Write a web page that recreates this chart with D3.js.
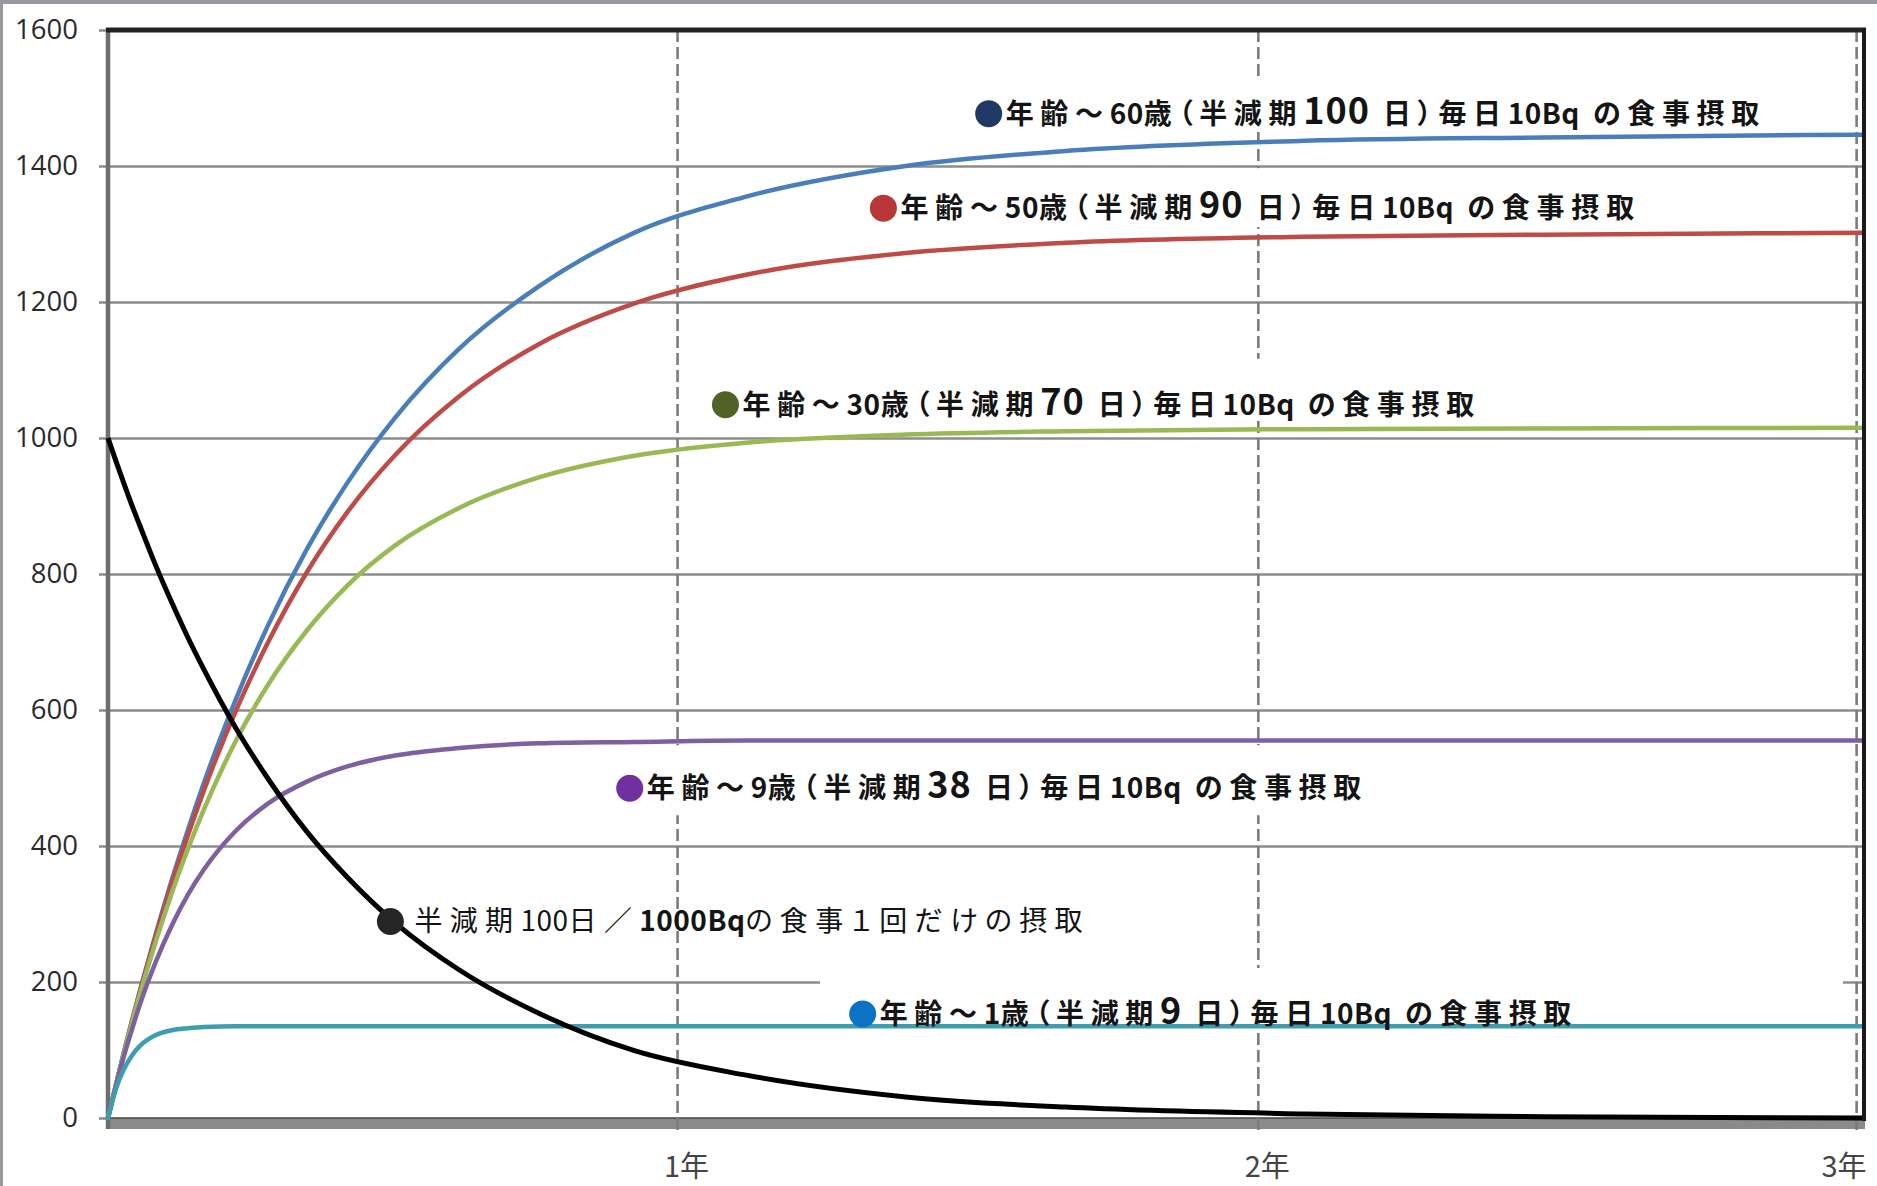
<!DOCTYPE html>
<html><head><meta charset="utf-8">
<script src="https://cdn.jsdelivr.net/npm/d3@7"></script>
<style>
html,body{margin:0;padding:0;background:#fff;}
svg{display:block;}
.lab text{font-feature-settings:"palt" 1;}
</style></head>
<body>
<svg id="chart" width="1877" height="1186"></svg>
<script>
// ---------- data ----------
const days = [0, 5, 10, 15, 20, 30, 40, 50, 60, 80, 100, 125, 150, 180, 220, 270, 330, 400, 500, 600, 750, 900, 1100];
const age60 = [0, 49, 97, 143, 187, 271, 350, 423, 492, 615, 723, 838, 934, 1030, 1131, 1223, 1302, 1355, 1400, 1422, 1437, 1442, 1446];
const age50 = [0, 49, 96, 142, 186, 268, 345, 415, 481, 598, 698, 804, 891, 975, 1061, 1138, 1198, 1240, 1272, 1287, 1296, 1299, 1302];
const age30 = [0, 49, 95, 140, 182, 260, 331, 395, 453, 554, 636, 718, 783, 842, 897, 942, 974, 993, 1005, 1010, 1013, 1014, 1015];
const age9  = [0, 47, 91, 130, 167, 230, 283, 328, 365, 422, 462, 495, 517, 533, 544, 551, 553, 555, 555, 555, 555, 555, 555];
const age1  = [0, 43, 72, 92, 106, 122, 129, 132, 134, 135, 135, 135, 135, 135, 135, 135, 135, 135, 135, 135, 135, 135, 135];
const single = [1000, 966, 933, 901, 871, 812, 758, 707, 660, 574, 500, 420, 354, 287, 218, 154, 99, 63, 31, 16, 6, 2, 0];

const ages = [60, 50, 30, 9, 1];
const halfLives = [100, 90, 70, 38, 9];
const yTicks = [0, 200, 400, 600, 800, 1000, 1200, 1400, 1600];
const yearLabels = ["1年", "2年", "3年"];
const yearDays = [357, 721, 1096];
// label anchor points (day, value) where each legend dot sits
const labelAnchors = [[552, 1477], [486, 1338], [387, 1049], [327, 485], [473, 153]];
const singleAnchor = [177, 289];

// ---------- style / layout ----------
const lineColors = ["#4a7ebb", "#be4b48", "#98b954", "#7d60a0", "#3f9db0"];
const dotColors = ["#1f3864", "#b8383a", "#4f6228", "#7030a0", "#0b72c4"];
const textEnds = [1766, 1641, 1481, 1368, 1578];
const boxExt = [[-34, 13], [-40, 19], [-46, 13], [-43, 27], [-46, 6]];
const boxLeft = [968, 866, 708, 612, 820];
const boxRight = [1775, 1650, 1490, 1375, 1843];

const W = 1877, H = 1186;
const L = 108, R = 1863, T = 30, B = 1118;
const svg = d3.select("#chart");
const x = d3.scaleLinear().domain([0, 1100]).range([L, R]);
const y = d3.scaleLinear().domain([0, 1600]).range([B, T]);

// outer frame of the screenshot
svg.append("rect").attr("x", 0).attr("y", 0).attr("width", W).attr("height", 4).attr("fill", "#9a97a2");
svg.append("rect").attr("x", 0).attr("y", 0).attr("width", 3).attr("height", H).attr("fill", "#9a9a9a");

// gridlines
const grid = svg.append("g").attr("transform", `translate(${L},0)`)
  .call(d3.axisLeft(y).tickValues(yTicks.filter(v => v > 0 && v < 1600)).tickSize(-(R - L)).tickFormat(""));
grid.select(".domain").remove();
grid.selectAll("line").attr("stroke", "#8c8c8c").attr("stroke-width", 2.6);

// bottom axis band
svg.append("rect").attr("x", L).attr("y", B).attr("width", R - L + 2).attr("height", 11).attr("fill", "#8a8a8a");
svg.append("line").attr("x1", L).attr("x2", R).attr("y1", B).attr("y2", B).attr("stroke", "#444").attr("stroke-width", 1.5);

// year dashed lines
svg.append("g").selectAll("line").data(yearDays).join("line")
  .attr("x1", d => x(d)).attr("x2", d => x(d)).attr("y1", T).attr("y2", B + 14)
  .attr("stroke", "#7c7c7c").attr("stroke-width", 2.6).attr("stroke-dasharray", "12,5");

// white label boxes
svg.append("g").selectAll("rect").data(labelAnchors).join("rect")
  .attr("x", (d, i) => boxLeft[i])
  .attr("y", (d, i) => y(d[1]) + boxExt[i][0])
  .attr("width", (d, i) => boxRight[i] - boxLeft[i])
  .attr("height", (d, i) => boxExt[i][1] - boxExt[i][0])
  .attr("fill", "#fff");

// left axis
const yAxis = svg.append("g").attr("transform", `translate(${L},0)`)
  .call(d3.axisLeft(y).tickValues(yTicks).tickSize(9).tickPadding(21).tickFormat(d3.format("d")));
yAxis.select(".domain").remove();
yAxis.selectAll(".tick line").attr("stroke", "#8a8a8a").attr("stroke-width", 2.5);
yAxis.selectAll(".tick text").attr("font-family", "'Open Sans', sans-serif").attr("font-size", 27.5).attr("fill", "#2a2a2a");
svg.append("line").attr("x1", L).attr("x2", L).attr("y1", T - 2).attr("y2", B + 11).attr("stroke", "#6e6e6e").attr("stroke-width", 4.5);

// curves
const line = d3.line().x((d, i) => x(days[i])).y(d => y(d)).curve(d3.curveMonotoneX);
const series = [age60, age50, age30, age9, age1];
svg.append("g").selectAll("path").data(series).join("path")
  .attr("d", line).attr("fill", "none")
  .attr("stroke", (d, i) => lineColors[i]).attr("stroke-width", 4.5).attr("stroke-linecap", "round");
svg.append("path").datum(single).attr("d", line).attr("fill", "none")
  .attr("stroke", "#000").attr("stroke-width", 5);

// top & right borders
svg.append("line").attr("x1", L - 2).attr("x2", R + 3).attr("y1", T).attr("y2", T).attr("stroke", "#222").attr("stroke-width", 5);
svg.append("line").attr("x1", R + 1).attr("x2", R + 1).attr("y1", T - 2).attr("y2", B + 3).attr("stroke", "#1a1a1a").attr("stroke-width", 4);

// x (year) labels
svg.append("g").selectAll("text").data(yearLabels).join("text")
  .attr("x", (d, i) => Math.min(x(yearDays[i]) + 9, 1844))
  .attr("y", 1177)
  .attr("text-anchor", "middle")
  .attr("font-family", "'Noto Sans CJK JP', sans-serif").attr("font-size", 29).attr("font-weight", 400)
  .attr("fill", "#454545").text(d => d);

// label builder: parts = [text, kind]; kind: 'c' cjk, 'l' latin, 'b' big latin
const labG = svg.append("g").attr("class", "lab").attr("font-family", "'Noto Sans CJK JP', sans-serif").attr("fill", "#141414");
function buildLabel(x0, yb, parts, endX, weight) {
  const t = labG.append("text").attr("x", x0).attr("y", yb).attr("font-weight", weight);
  const cjk = [];
  let nCjk = 0;
  parts.forEach(([s, k, w]) => {
    const sp = t.append("tspan").text(s);
    if (k === "b") sp.attr("font-size", 36).attr("font-weight", 700).attr("letter-spacing", 1);
    else if (k === "l") sp.attr("font-size", 28).attr("font-weight", w || weight).attr("letter-spacing", 0.5);
    else { sp.attr("font-size", 28); cjk.push(sp); nCjk += s.length; }
  });
  const len = t.node().getComputedTextLength();
  const s = Math.max(0, (endX - x0 - len) / nCjk);
  cjk.forEach(sp => sp.attr("letter-spacing", s));
}

labelAnchors.forEach((a, i) => {
  const cx = x(a[0]), cy = y(a[1]);
  labG.append("circle").attr("cx", cx).attr("cy", cy).attr("r", 13.5).attr("fill", dotColors[i]);
  buildLabel(cx + 17, cy + 10, [
    ["年齢～", "c"], [String(ages[i]), "l"], ["歳（半減期", "c"], [String(halfLives[i]), "b"],
    [" 日）毎日", "c"], ["10Bq", "l"], [" の食事摂取", "c"]
  ], textEnds[i], 700);
});

// single intake label
{
  const cx = x(singleAnchor[0]), cy = y(singleAnchor[1]);
  labG.append("circle").attr("cx", cx).attr("cy", cy).attr("r", 13.5).attr("fill", "#262626");
  buildLabel(cx + 24, cy + 10, [
    ["半減期", "c"], ["100", "l", 400], ["日／", "c"], ["1000Bq", "l", 700], ["の食事１回だけの摂取", "c"]
  ], 1090, 400);
}
</script>
</body></html>
